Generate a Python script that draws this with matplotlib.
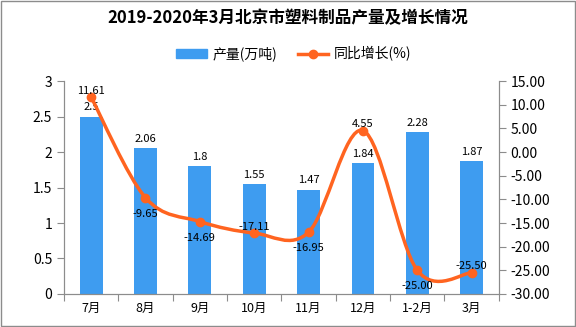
import matplotlib
matplotlib.use("Agg")
import matplotlib.pyplot as plt
import numpy as np
from matplotlib.path import Path
from matplotlib.patches import PathPatch, Rectangle
from matplotlib.lines import Line2D

plt.rcParams['font.family'] = ['Noto Sans CJK SC', 'DejaVu Sans']

months = ['7月', '8月', '9月', '10月', '11月', '12月', '1-2月', '3月']
output = [2.5, 2.06, 1.8, 1.55, 1.47, 1.84, 2.28, 1.87]
growth = [11.61, -9.65, -14.69, -17.11, -16.95, 4.55, -25.00, -25.50]
# where the growth label goes: 1 above, -1 below
growth_pos = [1, -1, -1, 1, -1, 1, -1, 1]

BAR = '#3e9cf0'
LINE = '#ff6420'
GREY = '#8c8c8c'

fig = plt.figure(figsize=(5.76, 3.27), dpi=100)
ax = fig.add_axes([0.111, 0.101, 0.755, 0.651])
ax2 = ax.twinx()

x = np.arange(len(months))
ax.bar(x, output, width=0.42, color=BAR, zorder=2)
for i, v in enumerate(output):
    ax.annotate(f'{v:g}', (x[i], v), xytext=(0, 3), textcoords='offset points',
                ha='center', va='bottom', fontsize=8)

ax.set_xlim(-0.5, len(months) - 0.5)
ax.set_ylim(0, 3)
ax.set_yticks([0, 0.5, 1, 1.5, 2, 2.5, 3])
ax.set_yticklabels(['0', '0.5', '1', '1.5', '2', '2.5', '3'], fontsize=10)
ax.set_xticks(np.arange(len(months) + 1) - 0.5)
ax.set_xticklabels([])
ax.set_xticks(x, minor=True)
ax.set_xticklabels(months, minor=True, fontsize=9)
ax.tick_params(axis='x', which='major', length=5, color=GREY)
ax.tick_params(axis='x', which='minor', length=0, pad=6)
ax.tick_params(axis='y', length=5, color=GREY)

# smooth line through the growth points (Catmull-Rom as bezier curves)
pts = np.column_stack([x, growth]).astype(float)
verts = [tuple(pts[0])]
codes = [Path.MOVETO]
n = len(pts)
for i in range(n - 1):
    p0 = pts[i - 1] if i > 0 else pts[i]
    p1 = pts[i]
    p2 = pts[i + 1]
    p3 = pts[i + 2] if i + 2 < n else pts[i + 1]
    c1 = p1 + (p2 - p0) / 6
    c2 = p2 - (p3 - p1) / 6
    verts += [tuple(c1), tuple(c2), tuple(p2)]
    codes += [Path.CURVE4] * 3
ax2.add_patch(PathPatch(Path(verts, codes), fill=False, edgecolor=LINE, lw=2.5, zorder=3))
ax2.plot(x, growth, linestyle='none', marker='o', ms=6, color=LINE, zorder=4)
for i, v in enumerate(growth):
    if growth_pos[i] > 0:
        ax2.annotate(f'{v:.2f}', (x[i], v), xytext=(0, 1), textcoords='offset points',
                     ha='center', va='bottom', fontsize=8, zorder=5)
    else:
        ax2.annotate(f'{v:.2f}', (x[i], v), xytext=(0, -8), textcoords='offset points',
                     ha='center', va='top', fontsize=8, zorder=5)

ax2.set_ylim(-30, 15)
ax2.set_yticks(np.arange(-30, 16, 5))
ax2.set_yticklabels([f'{t:.2f}' for t in np.arange(-30, 16, 5)], fontsize=10)
ax2.tick_params(axis='y', length=5, color=GREY)

for a in (ax, ax2):
    a.spines['top'].set_visible(False)
    for s in ('left', 'right', 'bottom'):
        a.spines[s].set_color(GREY)

fig.text(0.5, 0.945, '2019-2020年3月北京市塑料制品产量及增长情况', ha='center', va='center',
         fontsize=12, fontweight='bold')

handles = [Rectangle((0, 0), 1, 1, color=BAR),
           Line2D([0], [0], color=LINE, lw=2.5, marker='o', ms=6)]
fig.legend(handles, ['产量(万吨)', '同比增长(%)'], loc='center', bbox_to_anchor=(0.51, 0.835),
           ncol=2, frameon=False, fontsize=10, handlelength=2.2, columnspacing=1.5,
           handletextpad=0.4)

fig.add_artist(Rectangle((0.001, 0.002), 0.997, 0.996, transform=fig.transFigure,
                         fill=False, edgecolor=GREY, lw=1))

fig.savefig('out.png', dpi=100)
